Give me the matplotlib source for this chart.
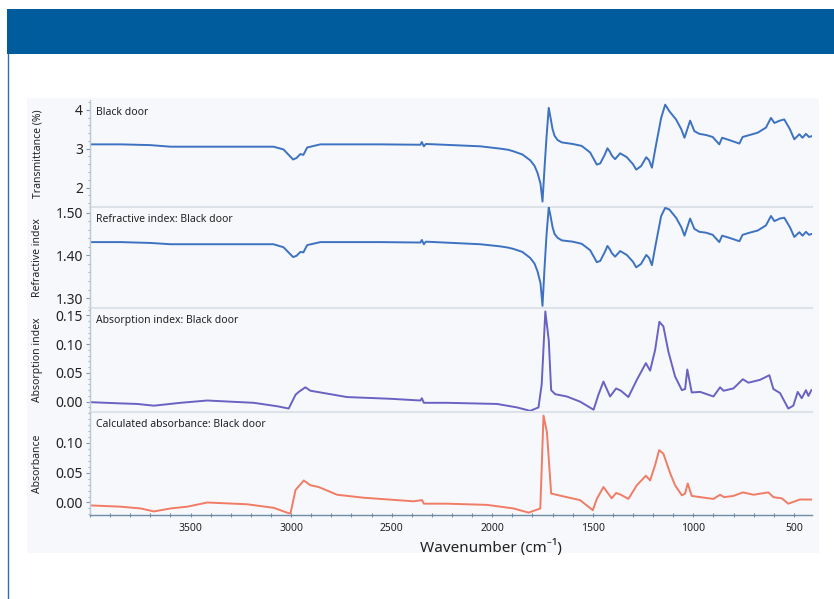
#!/usr/bin/env python3
# -*- coding: utf-8 -*-
"""Stacked FTIR-style spectra: black door sample."""

import matplotlib
matplotlib.use('Agg')
import matplotlib.pyplot as plt
from matplotlib.patches import Rectangle
from matplotlib.lines import Line2D
from matplotlib.ticker import MultipleLocator, FixedLocator

plt.rcParams['font.family'] = ['Noto Sans', 'DejaVu Sans']

# ---- data ----
wn_trans = [3994, 3848, 3699, 3600, 3301, 3088, 3038, 2990, 2973, 2954, 2939, 2920, 2854,
            2556, 2357, 2350, 2340, 2330, 2060, 1960, 1920, 1894, 1850, 1811, 1790, 1775, 1760, 1750,
            1740, 1730, 1719, 1712, 1700, 1690, 1675, 1654, 1600, 1555, 1513, 1480, 1463, 1440,
            1427, 1415, 1405, 1389, 1364, 1331, 1300, 1284, 1260, 1234, 1220, 1206, 1185,
            1160, 1140, 1119, 1086, 1060, 1044, 1016, 995, 970, 937, 904, 871, 857, 821,
            771, 755, 720, 680, 639, 614, 597, 570, 548, 520, 498, 473, 457, 440, 425, 412]
transmittance = [3.11, 3.11, 3.09, 3.05, 3.05, 3.05, 2.98, 2.72, 2.76, 2.86, 2.84, 3.03, 3.11,
                 3.11, 3.10, 3.17, 3.06, 3.12, 3.06, 3.00, 2.97, 2.93, 2.85, 2.70, 2.56, 2.38, 2.10, 1.64,
                 2.50, 3.30, 4.05, 3.85, 3.50, 3.33, 3.22, 3.16, 3.12, 3.07, 2.90, 2.59, 2.62, 2.85,
                 3.01, 2.92, 2.82, 2.73, 2.88, 2.78, 2.60, 2.46, 2.55, 2.78, 2.70, 2.51, 3.11,
                 3.79, 4.13, 3.96, 3.75, 3.50, 3.28, 3.72, 3.45, 3.38, 3.35, 3.30, 3.11, 3.28, 3.22,
                 3.13, 3.30, 3.35, 3.41, 3.54, 3.79, 3.66, 3.72, 3.75, 3.50, 3.24, 3.37, 3.28, 3.38, 3.30, 3.32]

wn_refr = wn_trans
refractive = [1.431, 1.431, 1.429, 1.426, 1.426, 1.426, 1.419, 1.396, 1.399, 1.408, 1.407, 1.424, 1.431,
              1.431, 1.430, 1.436, 1.426, 1.432, 1.426, 1.421, 1.418, 1.415, 1.408, 1.394, 1.381, 1.363, 1.335, 1.282,
              1.370, 1.448, 1.512, 1.497, 1.466, 1.450, 1.441, 1.435, 1.432, 1.427, 1.412, 1.384, 1.387, 1.408,
              1.422, 1.414, 1.405, 1.397, 1.410, 1.401, 1.385, 1.372, 1.380, 1.401, 1.394, 1.377, 1.431,
              1.492, 1.511, 1.507, 1.488, 1.466, 1.446, 1.486, 1.462, 1.455, 1.453, 1.448, 1.431, 1.446, 1.441,
              1.433, 1.448, 1.453, 1.458, 1.470, 1.492, 1.480, 1.486, 1.488, 1.466, 1.443, 1.454, 1.446, 1.455, 1.448, 1.450]

wn_absidx = [3992, 3848, 3765, 3682, 3550, 3417, 3186, 3069, 3012, 2978, 2962, 2929, 2904, 2854,
             2722, 2506, 2357, 2350, 2340, 2225, 1976, 1877, 1811, 1770, 1754, 1736, 1719, 1707,
             1687, 1629, 1563, 1496, 1472, 1447, 1414, 1384, 1360, 1323, 1281, 1236, 1215, 1190,
             1169, 1149, 1124, 1091, 1057, 1041, 1030, 1008, 966, 900, 867, 850, 801, 754, 726,
             668, 622, 602, 569, 528, 503, 481, 461, 440, 428, 413]
absorption_index = [-0.001, -0.003, -0.004, -0.007, -0.002, 0.002, -0.002, -0.008, -0.012, 0.012, 0.017,
                    0.025, 0.019, 0.016, 0.008, 0.005, 0.002, 0.006, -0.002, -0.002, -0.004, -0.010,
                    -0.016, -0.010, 0.030, 0.157, 0.107, 0.020, 0.013, 0.009, 0.000, -0.014, 0.012,
                    0.035, 0.009, 0.023, 0.019, 0.008, 0.038, 0.067, 0.054, 0.090, 0.139, 0.131, 0.087,
                    0.044, 0.020, 0.022, 0.056, 0.016, 0.017, 0.009, 0.025, 0.019, 0.023, 0.039, 0.033,
                    0.038, 0.046, 0.022, 0.015, -0.012, -0.007, 0.017, 0.006, 0.020, 0.010, 0.020]

wn_absorb = [3992, 3848, 3748, 3682, 3599, 3516, 3417, 3218, 3086, 3012, 3003, 2978, 2937, 2904,
             2863, 2771, 2639, 2391, 2349, 2340, 2225, 2026, 1894, 1819, 1761, 1745, 1728, 1707,
             1629, 1563, 1500, 1480, 1447, 1406, 1384, 1360, 1323, 1281, 1236, 1215, 1190, 1170,
             1149, 1115, 1091, 1057, 1041, 1028, 1008, 966, 900, 867, 847, 801, 754, 701, 627,
             602, 560, 528, 503, 470, 413]
absorbance = [-0.005, -0.007, -0.010, -0.015, -0.010, -0.007, 0.000, -0.003, -0.009, -0.018, -0.018,
              0.021, 0.037, 0.029, 0.026, 0.013, 0.008, 0.002, 0.004, -0.002, -0.002, -0.004, -0.010,
              -0.017, -0.010, 0.146, 0.118, 0.015, 0.009, 0.004, -0.013, 0.006, 0.026, 0.007, 0.016,
              0.013, 0.006, 0.029, 0.045, 0.037, 0.063, 0.088, 0.082, 0.049, 0.029, 0.012, 0.015,
              0.032, 0.011, 0.009, 0.006, 0.013, 0.009, 0.011, 0.017, 0.013, 0.017, 0.009, 0.007,
              -0.002, 0.001, 0.005, 0.005]

panels = [
    (wn_trans, transmittance, '#3d72c2', 'Black door', 'Transmittance (%)',
     (1.5, 4.25), [2, 3, 4], ['2', '3', '4'], 0.2),
    (wn_refr, refractive, '#3d72c2', 'Refractive index: Black door', 'Refractive index',
     (1.277, 1.513), [1.30, 1.40, 1.50], ['1.30', '1.40', '1.50'], 0.02),
    (wn_absidx, absorption_index, '#6a62c2', 'Absorption index: Black door', 'Absorption index',
     (-0.018, 0.163), [0.0, 0.05, 0.10, 0.15], ['0.00', '0.05', '0.10', '0.15'], 0.01),
    (wn_absorb, absorbance, '#f07c66', 'Calculated absorbance: Black door', 'Absorbance',
     (-0.021, 0.152), [0.0, 0.05, 0.10], ['0.00', '0.05', '0.10'], 0.01),
]

W, H = 834, 599


def px2fig(x, y):
    """Convert pixel coordinates (top-left origin) to figure fraction."""
    return x / W, 1 - y / H


fig = plt.figure(figsize=(W / 100, H / 100), dpi=100)
fig.patch.set_facecolor('white')

# header band and left rule
x0, y0 = px2fig(7, 54)
fig.patches.append(Rectangle((x0, y0), 1 - x0, 45 / H, transform=fig.transFigure,
                             facecolor='#005c9d', edgecolor='none', zorder=-10))
fig.lines.append(Line2D([7.5 / W, 7.5 / W], [0, y0], transform=fig.transFigure,
                        color='#2f6fb0', lw=1.0, zorder=-10))
# light chart background
bx, by = px2fig(27, 553)
fig.patches.append(Rectangle((bx, by), (819 - 27) / W, (553 - 98) / H, transform=fig.transFigure,
                             facecolor='#f7f8fb', edgecolor='none', zorder=-10))

bounds = [100, 207, 308, 412, 515]
left, right = 90, 812
axes = []
for i, (wn, vals, col, title, ylab, ylim, yt, ytl, minor) in enumerate(panels):
    top, bot = bounds[i], bounds[i + 1]
    ax = fig.add_axes([left / W, 1 - bot / H, (right - left) / W, (bot - top) / H])
    ax.set_facecolor('none')
    ax.plot(wn, vals, color=col, lw=1.4, solid_joinstyle='round')
    ax.set_xlim(4000, 410)
    ax.set_ylim(*ylim)
    ax.yaxis.set_major_locator(FixedLocator(yt))
    ax.set_yticklabels(ytl)
    ax.yaxis.set_minor_locator(MultipleLocator(minor))
    ax.tick_params(axis='y', which='major', labelsize=10, length=3, width=0.8,
                   color='#7d98b0', pad=2, labelcolor='#222222')
    ax.tick_params(axis='y', which='minor', length=1.5, width=0.8, color='#9fb3c6')
    ax.set_ylabel(ylab, fontsize=7.5, color='#222222')
    ax.yaxis.set_label_coords(-0.065, 0.5)
    ax.text(0.008, 0.93, title, transform=ax.transAxes, fontsize=7.5,
            va='top', ha='left', color='#222222')
    for s in ['right', 'top']:
        ax.spines[s].set_visible(False)
    ax.spines['left'].set_color('#b9c9d8')
    ax.spines['left'].set_linewidth(1.0)
    if i < 3:
        ax.spines['bottom'].set_color('#dde2e8')
        ax.spines['bottom'].set_linewidth(1.5)
        ax.tick_params(axis='x', which='both', bottom=False, labelbottom=False)
    else:
        ax.spines['bottom'].set_color('#6f8ca6')
        ax.spines['bottom'].set_linewidth(1.0)
        ax.xaxis.set_major_locator(FixedLocator([3500, 3000, 2500, 2000, 1500, 1000, 500]))
        ax.xaxis.set_minor_locator(MultipleLocator(100))
        ax.tick_params(axis='x', which='major', labelsize=7.5, length=3, width=0.8,
                       color='#6f8ca6', direction='inout', pad=4, labelcolor='#222222')
        ax.tick_params(axis='x', which='minor', length=2.5, width=0.8,
                       color='#6f8ca6', direction='inout')
        ax.set_xlabel('Wavenumber (cm\u207b\u00b9)', fontsize=11, color='#222222', labelpad=2)
        ax.xaxis.set_label_coords((491 - left) / (right - left), -0.235)
    axes.append(ax)

fig.savefig('out.png', dpi=100)
